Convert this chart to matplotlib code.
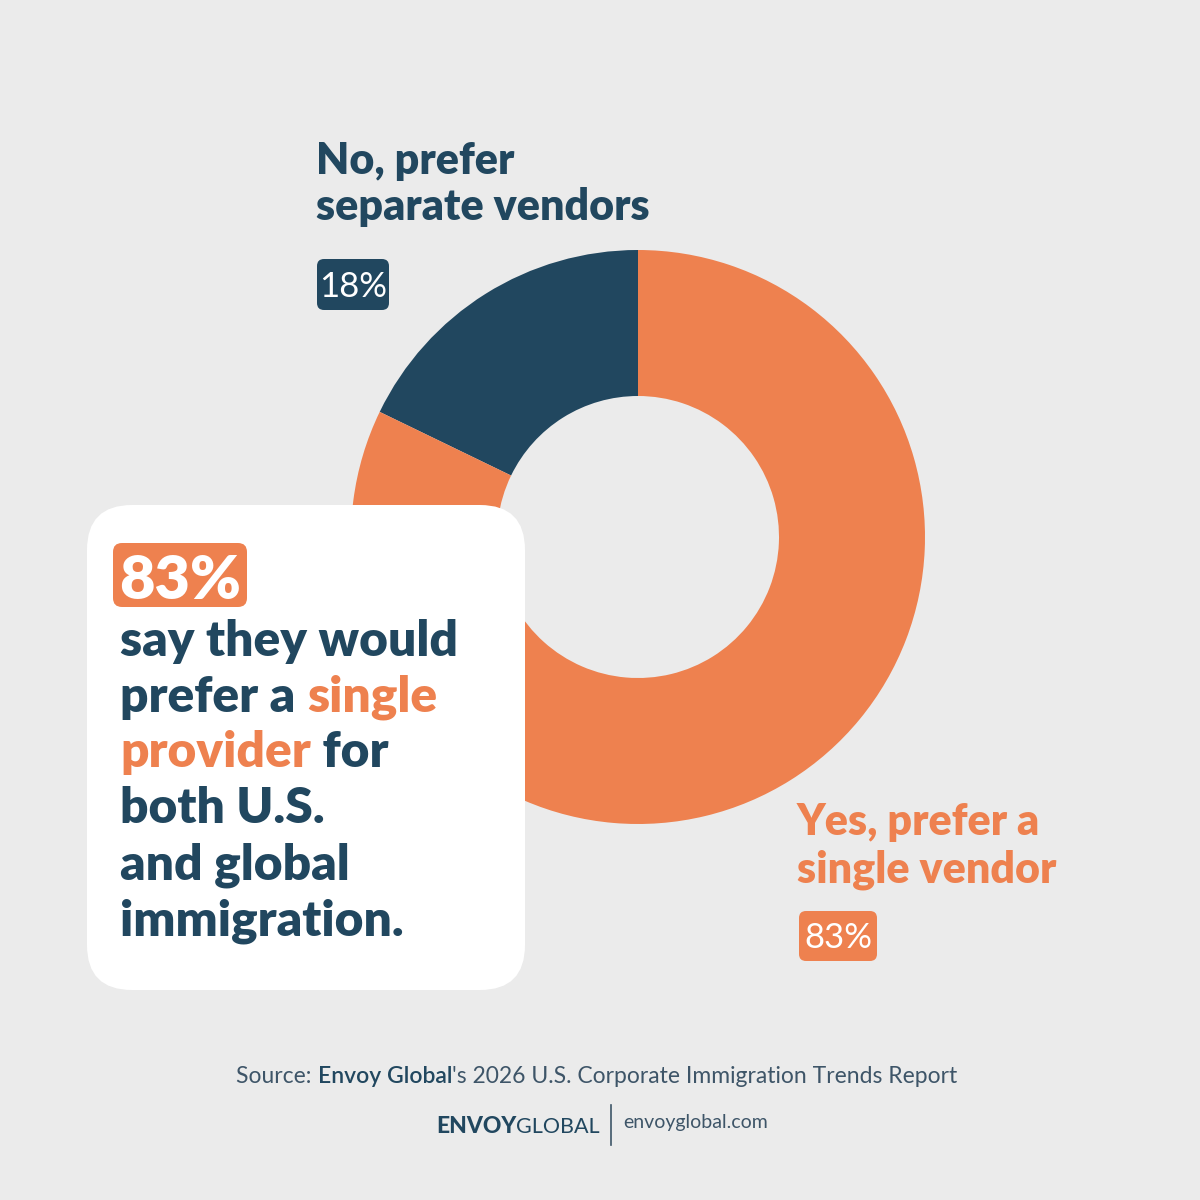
import matplotlib
matplotlib.use("Agg")
import matplotlib.pyplot as plt
from matplotlib.patches import FancyBboxPatch

# ---- data ----
categories = ["No, prefer\nseparate vendors", "Yes, prefer a\nsingle vendor"]
shares = [18, 83]
share_labels = ["18%", "83%"]

BG = "#EBEBEB"
ORANGE = "#EE814F"
NAVY = "#21475F"
GREY = "#3E5568"
FONT = "Lato"

fig = plt.figure(figsize=(12, 12), dpi=100, facecolor=BG)
ax = fig.add_axes([0, 0, 1, 1])
ax.set_facecolor(BG)

# donut (pixel coords, y up)
ax.pie(shares, colors=[NAVY, ORANGE], startangle=90, counterclock=True,
       center=(638, 1200 - 537), radius=287,
       wedgeprops=dict(width=146, linewidth=0))
ax.set_xlim(0, 1200)
ax.set_ylim(0, 1200)
ax.set_aspect("equal")
ax.axis("off")

renderer = fig.canvas.get_renderer()

def Y(y):
    return 1200 - y

def advance(s, **kw):
    t1 = ax.text(0, 0, s + "|", **kw)
    t2 = ax.text(0, 0, "|", **kw)
    w = t1.get_window_extent(renderer).width - t2.get_window_extent(renderer).width
    t1.remove(); t2.remove()
    return w

def rich_line(x, y, parts, **kw):
    for s, c in parts:
        ax.text(x, Y(y), s, color=c, va="baseline", ha="left", **kw)
        x += advance(s, **kw)

def pill(x0, y0, x1, y1, color, r=8, z=3):
    p = FancyBboxPatch((x0 + r, Y(y1) + r), (x1 - x0) - 2 * r, (y1 - y0) - 2 * r,
                       boxstyle=f"round,pad={r}", fc=color, ec="none", zorder=z)
    ax.add_patch(p)

# category labels
cat_kw = dict(fontfamily=FONT, fontweight="heavy", fontsize=31)
l0 = categories[0].split("\n")
ax.text(316, Y(174), l0[0], color=NAVY, va="baseline", **cat_kw)
ax.text(316, Y(220), l0[1], color=NAVY, va="baseline", **cat_kw)
l1 = categories[1].split("\n")
ax.text(797, Y(835), l1[0], color=ORANGE, va="baseline", **cat_kw)
ax.text(797, Y(882), l1[1], color=ORANGE, va="baseline", **cat_kw)

# share pills
pill(317, 259, 389, 310, NAVY, r=7)
ax.text(353, Y(297), share_labels[0], color="white", ha="center", va="baseline",
        fontfamily=FONT, fontsize=25, zorder=4)
pill(799, 911, 877, 961, ORANGE, r=7)
ax.text(838, Y(948), share_labels[1], color="white", ha="center", va="baseline",
        fontfamily=FONT, fontsize=25, zorder=4)

# white call-out box
box = FancyBboxPatch((87 + 45, Y(990) + 45), 438 - 90, 485 - 90,
                     boxstyle="round,pad=45", fc="white", ec="none", zorder=5)
ax.add_patch(box)

pill(113, 543, 247, 607, ORANGE, r=9, z=6)
ax.text(180, Y(599), share_labels[1], color="white", ha="center", va="baseline",
        fontfamily=FONT, fontweight="heavy", fontsize=44, zorder=7)

body_kw = dict(fontfamily=FONT, fontweight="heavy", fontsize=35.7, zorder=7)
rich_line(120, 656, [("say they would", NAVY)], **body_kw)
rich_line(120, 712, [("prefer a ", NAVY), ("single", ORANGE)], **body_kw)
rich_line(120, 767, [("provider", ORANGE), (" for", NAVY)], **body_kw)
rich_line(120, 823, [("both U.S.", NAVY)], **body_kw)
rich_line(120, 880, [("and global", NAVY)], **body_kw)
rich_line(120, 935, [("immigration.", NAVY)], **body_kw)

# footer source line
src_parts = [("Source: ", GREY, "normal"), ("Envoy Global", NAVY, "semibold"),
             ("'s 2026 U.S. Corporate Immigration Trends Report", GREY, "normal")]
src_kw = dict(fontfamily=FONT, fontsize=16.5)
total = sum(advance(s, fontweight=w, **src_kw) for s, c, w in src_parts)
x = 597 - total / 2
for s, c, w in src_parts:
    ax.text(x, Y(1083), s, color=c, fontweight=w, va="baseline", **src_kw)
    x += advance(s, fontweight=w, **src_kw)

# logo
x = 436
ax.text(x, Y(1133), "ENVOY", color=NAVY, fontweight="black", va="baseline",
        fontfamily=FONT, fontsize=16.5)
x += advance("ENVOY", fontweight="black", fontfamily=FONT, fontsize=16.5)
ax.text(x, Y(1133), "GLOBAL", color=NAVY, fontweight="normal", va="baseline",
        fontfamily=FONT, fontsize=15.5)
ax.plot([611, 611], [Y(1105), Y(1145)], color=GREY, lw=1.2)
ax.text(623, Y(1128), "envoyglobal.com", color=GREY, fontweight="normal",
        va="baseline", fontfamily=FONT, fontsize=14)

fig.savefig("out.png", dpi=100, facecolor=BG)
